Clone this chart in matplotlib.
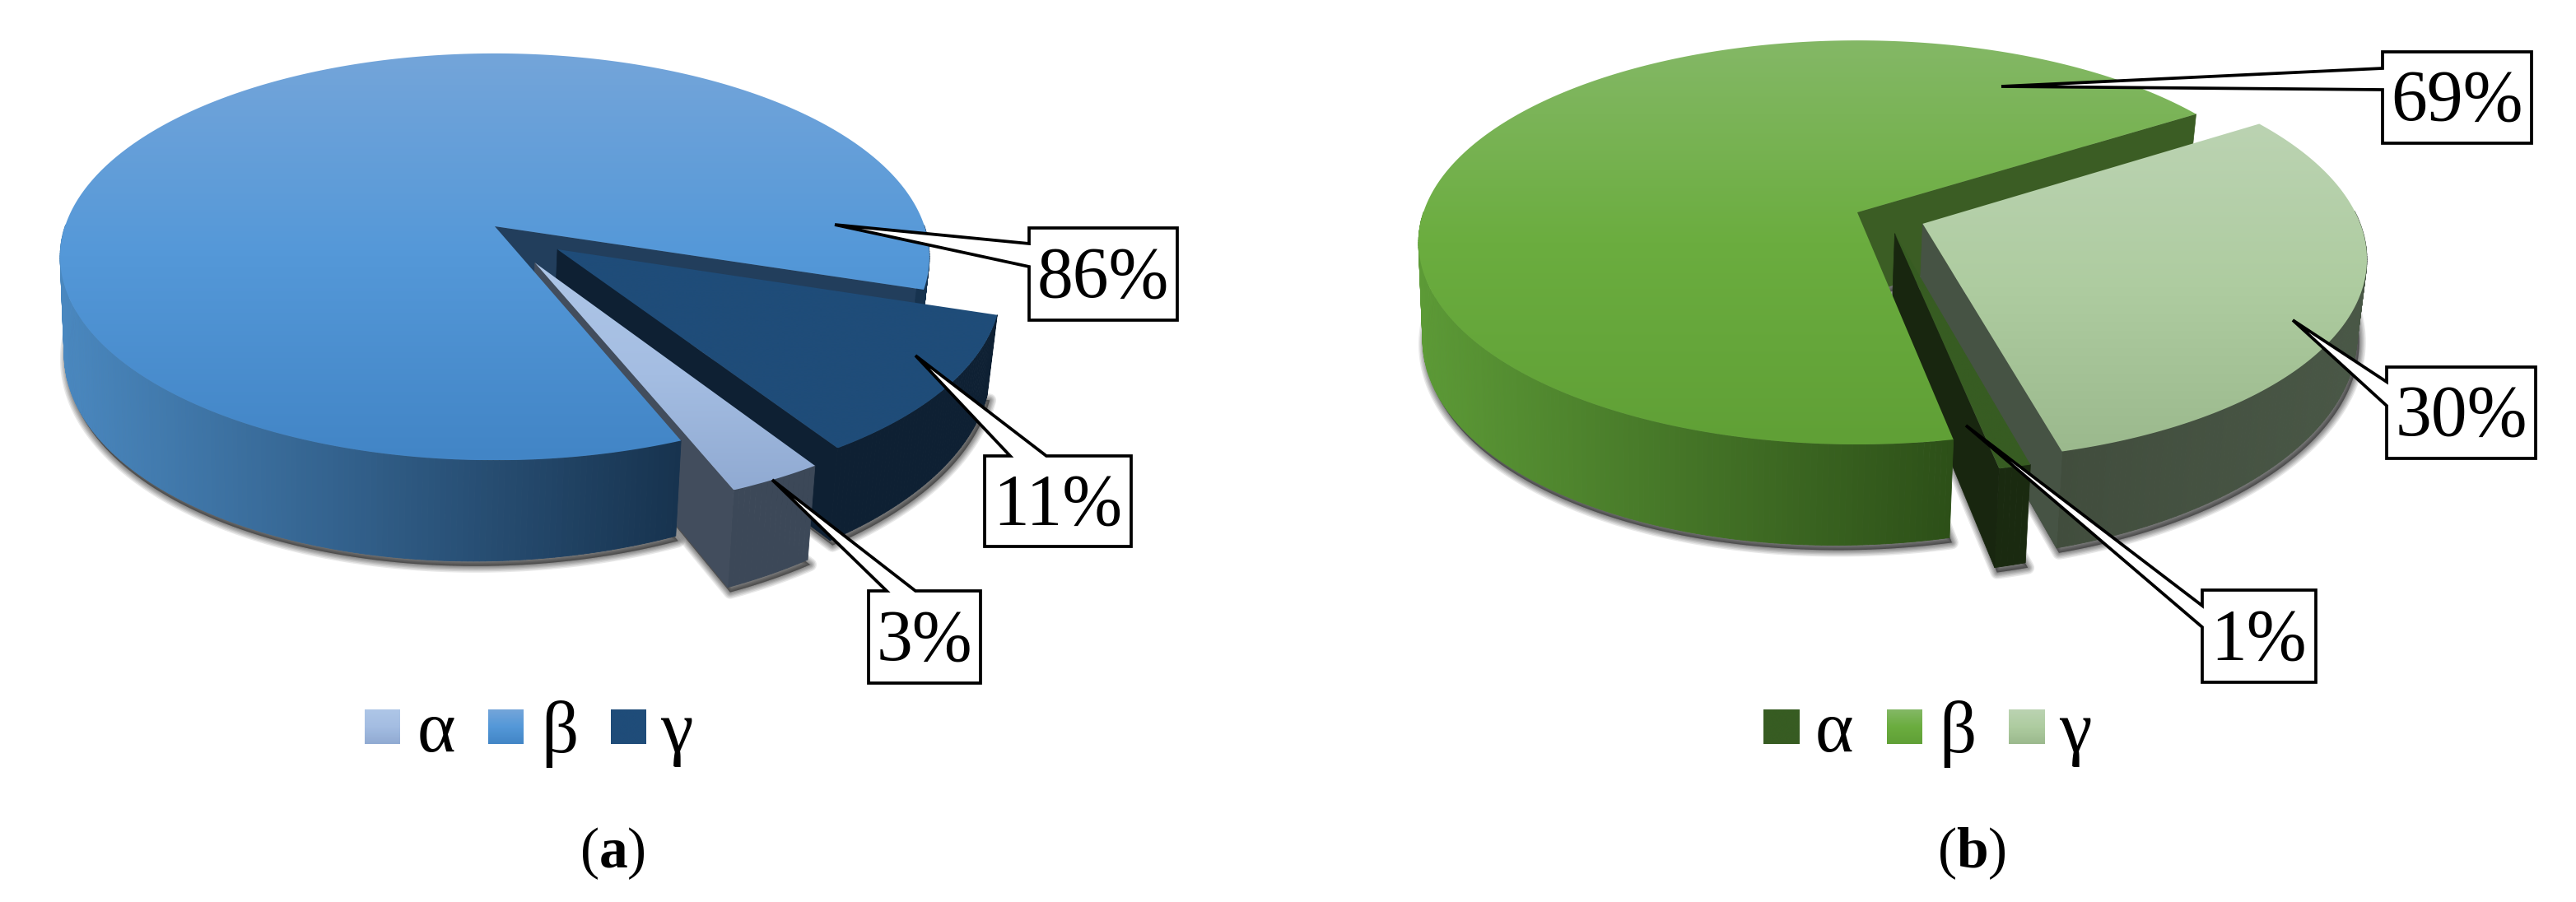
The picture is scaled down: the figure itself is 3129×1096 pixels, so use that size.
import numpy as np
import matplotlib
matplotlib.use("Agg")
import matplotlib.pyplot as plt
from matplotlib.colors import LinearSegmentedColormap, to_rgb
from matplotlib.patches import Polygon
from matplotlib.collections import PolyCollection

plt.rcParams['font.family'] = ['Liberation Serif', 'DejaVu Serif']
plt.rcParams['mathtext.fontset'] = 'custom'
plt.rcParams['mathtext.rm'] = 'Liberation Serif'
plt.rcParams['mathtext.bf'] = 'Liberation Serif:bold'

# ---------- data ----------
categories = ['α', 'β', 'γ']
values_a = [3, 86, 11]
values_b = [1, 69, 30]
panel_labels = ['a', 'b']

W, H = 3129, 1096
fig = plt.figure(figsize=(W / 100, H / 100), dpi=100, facecolor='white')
ax = fig.add_axes([0, 0, 1, 1])
ax.set_xlim(0, W)
ax.set_ylim(H, 0)
ax.axis('off')

Z = [10]
def nz():
    Z[0] += 1
    return Z[0]


def grad_poly(pts, stops):
    """Fill polygon with a vertical gradient."""
    pts = np.asarray(pts)
    x0, x1 = pts[:, 0].min(), pts[:, 0].max()
    y0, y1 = pts[:, 1].min(), pts[:, 1].max()
    cm = LinearSegmentedColormap.from_list('g', stops)
    z = nz()
    im = ax.imshow(np.linspace(0, 1, 256)[:, None], cmap=cm, vmin=0, vmax=1,
                   extent=[x0, x1, y1, y0], aspect='auto', zorder=z, interpolation='bilinear')
    p = Polygon(pts, closed=True, transform=ax.transData, fc='none', ec='none')
    ax.add_patch(p)
    im.set_clip_path(p)
    ax.set_xlim(0, W)
    ax.set_ylim(H, 0)


class Pie:
    def __init__(self, cx, cy, A, B, k, D, q=0.11, shrink=0.985, shift=-3):
        self.cx, self.cy, self.A, self.B, self.k, self.D = cx, cy, A, B, k, D
        self.q, self.shrink, self.shift = q, shrink, shift

    def top(self, u, v):
        w = 1 + self.k * v
        return np.column_stack([self.cx + self.A * u / w, self.cy - self.B * v / w])

    def bot(self, u, v):
        w = 1 + self.k * v
        return np.column_stack([self.cx + self.A * u / w * self.shrink + self.shift,
                                self.cy - self.B * v / w + self.D / w * (1 - self.q * u)])


def slice_geom(t0, t1, e, d):
    n = max(int(abs(t1 - t0) * 1.5), 6)
    th = np.radians(np.linspace(t0, t1, n))
    ox, oy = e * np.cos(np.radians(d)), e * np.sin(np.radians(d))
    return np.cos(th) + ox, np.sin(th) + oy, np.array([ox]), np.array([oy])


def top_poly(pie, g):
    u, v, ax0, ay0 = g
    return np.vstack([pie.top(ax0, ay0), pie.top(u, v)])


def bot_poly(pie, g):
    u, v, ax0, ay0 = g
    return np.vstack([pie.bot(ax0, ay0), pie.bot(u, v)])


def outer_wall(pie, g, c0, c1=None):
    u, v, _, _ = g
    t, b = pie.top(u, v), pie.bot(u, v)
    quads, cols = [], []
    c0, c1r = np.array(to_rgb(c0)), np.array(to_rgb(c1 if c1 else c0))
    xmin, xmax = pie.wall_range
    for i in range(len(u) - 1):
        if v[i] > 0.0 and v[i + 1] > 0.0:   # back of the rim is hidden by the top face
            continue
        quads.append([t[i], t[i + 1], b[i + 1], b[i]])
        f = np.clip(((t[i, 0] + t[i + 1, 0]) / 2 - xmin) / (xmax - xmin), 0, 1)
        cols.append(c0 + (c1r - c0) * f)
    ax.add_collection(PolyCollection(quads, facecolors=cols, edgecolors=cols, linewidths=0.6, zorder=nz()))


def radial_wall(pie, g, idx, c):
    u, v, a0, b0 = g
    ui, vi = u[[idx]], v[[idx]]
    q = np.vstack([pie.top(a0, b0), pie.top(ui, vi), pie.bot(ui, vi), pie.bot(a0, b0)])
    ax.add_patch(Polygon(q, closed=True, fc=c, ec=c, lw=0.5, zorder=nz()))


def shadow(pie, g):
    pts = bot_poly(pie, g) + np.array([3, 6])
    for lw in [16, 13, 10, 7.5, 5, 2.5]:
        ax.add_patch(Polygon(pts, closed=True, fc='k', ec='k', lw=lw * 0.72, alpha=0.09,
                             joinstyle='round', zorder=2))


def angles(vals, start):
    out, t = [], start
    for v in vals:
        t2 = t - 3.6 * v
        out.append((t, t2))
        t = t2
    return out


def callout(box, tip, base, text, fs=63):
    x0, y0, x1, y1 = box
    side, b0, b1 = base
    if side == 'left':
        pts = [(x0, y0), (x1, y0), (x1, y1), (x0, y1), (x0, b1), tip, (x0, b0)]
    else:  # top
        pts = [(x0, y0), (b0, y0), tip, (b1, y0), (x1, y0), (x1, y1), (x0, y1)]
    ax.add_patch(Polygon(pts, closed=True, fc='white', ec='black', lw=2.7, joinstyle='miter', zorder=60))
    ax.text((x0 + x1) / 2, (y0 + y1) / 2 + 6, text, ha='center', va='center', fontsize=fs, color='black', zorder=61)


def legend(items, y0=862, y1=904, fs=64):
    for (lab, sx0, sx1, tx, stops) in items:
        pts = [(sx0, y0), (sx1, y0), (sx1, y1), (sx0, y1)]
        grad_poly(pts, stops)
        ax.text(tx, 892, lab, ha='center', va='center', fontsize=fs, color='black', zorder=61)


# ---------- panel a ----------
pa = Pie(601, 275, 522, 241.6, 0.15, 104)
pa.wall_range = (71, 825)
ang = angles(values_a, -57.3)
ga = slice_geom(*ang[0], 0.20, -63)
gb = slice_geom(*ang[1], 0, 0)
gc = slice_geom(*ang[2], 0.183, -38.5)
A_TOP = ['#aec6e7', '#a4bde2', '#90aad2']
B_TOP = ['#74a5da', '#5498d8', '#4285c6']
C_TOP = ['#1f4c79', '#1f4c79']
for g in (ga, gb, gc):
    shadow(pa, g)
radial_wall(pa, gb, -1, '#223e5c')          # beta cut wall
outer_wall(pa, gc, '#0e2033')
radial_wall(pa, gc, -1, '#0e2033')
outer_wall(pa, ga, '#3c4858')
radial_wall(pa, ga, -1, '#424d5d')
grad_poly(top_poly(pa, ga), A_TOP)
outer_wall(pa, gb, '#4a88c0', '#17334f')
grad_poly(top_poly(pa, gb), B_TOP)
grad_poly(top_poly(pa, gc), C_TOP)

callout((1250, 277, 1430, 389), (1014, 273), ('left', 296, 324), f'{values_a[1]}%')
callout((1196, 554, 1374, 664), (1112, 432), ('top', 1227, 1271), f'{values_a[2]}%')
callout((1055, 718, 1191, 830), (938, 583), ('top', 1077, 1112), f'{values_a[0]}%')
legend([(categories[0], 443, 486, 530, A_TOP),
        (categories[1], 593, 636, 680, B_TOP),
        (categories[2], 742, 785, 822, C_TOP)])
ax.text(744, 1037, '(' + r'$\mathbf{%s}$' % panel_labels[0] + ')', ha='center', va='center', fontsize=50, zorder=61)

# ---------- panel b ----------
pb = Pie(2256, 258, 527, 240, 0.149, 104)
ang = angles(values_b, -75.5)
ga = slice_geom(*ang[0], 0.135, -51)
gb = slice_geom(*ang[1], 0, 0)
gc = slice_geom(*ang[2], 0.16, -21)
A_TOP = ['#375c22', '#375c22']
B_TOP = ['#84b866', '#6bad3f', '#60a036']
C_TOP = ['#bbd3b2', '#aecca0', '#9bb98d']
for g in (ga, gb, gc):
    shadow(pb, g)
radial_wall(pb, gb, -1, '#3b5d24')
pb.wall_range = (2502, 2900)
outer_wall(pb, gc, '#414d3d', '#4a5847')
radial_wall(pb, gc, -1, '#465344')
outer_wall(pb, ga, '#1a2a10')
radial_wall(pb, ga, -1, '#18260f')
grad_poly(top_poly(pb, ga), A_TOP)
pb.wall_range = (1723, 2368)
outer_wall(pb, gb, '#5c9a36', '#2d5018')
grad_poly(top_poly(pb, gb), B_TOP)
grad_poly(top_poly(pb, gc), C_TOP)

callout((2894, 63, 3075, 174), (2431, 105), ('left', 83, 109), f'{values_b[1]}%')
callout((2899, 446, 3080, 557), (2785, 389), ('left', 464, 493), f'{values_b[2]}%')
callout((2675, 717, 2813, 829), (2388, 517), ('left', 736, 762), f'{values_b[0]}%')
legend([(categories[0], 2142, 2186, 2228, A_TOP),
        (categories[1], 2292, 2335, 2378, B_TOP),
        (categories[2], 2440, 2484, 2521, C_TOP)])
ax.text(2395, 1037, '(' + r'$\mathbf{%s}$' % panel_labels[1] + ')', ha='center', va='center', fontsize=50, zorder=61)

fig.savefig('out.png', dpi=100, facecolor='white')
